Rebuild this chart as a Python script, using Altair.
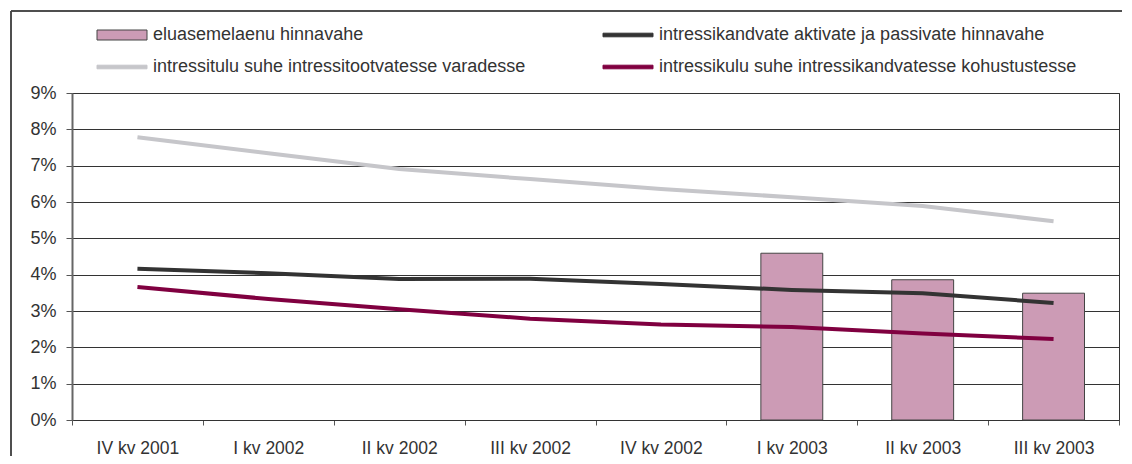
import altair as alt
import pandas as pd

cats = ["IV kv 2001", "I kv 2002", "II kv 2002", "III kv 2002",
        "IV kv 2002", "I kv 2003", "II kv 2003", "III kv 2003"]

s_bar = "eluasemelaenu hinnavahe"
s_spread = "intressikandvate aktivate ja passivate hinnavahe"
s_income = "intressitulu suhe intressitootvatesse varadesse"
s_cost = "intressikulu suhe intressikandvatesse kohustustesse"
series_order = [s_bar, s_spread, s_income, s_cost]
series_colors = ["#cc9bb5", "#333333", "#c6c6ca", "#800040"]
series_strokes = ["#444444", "#333333", "#c6c6ca", "#800040"]
series_symbols = ["M-5,-1H5V1H-5Z", "M-5,-0.36H5V0.36H-5Z",
                  "M-5,-0.36H5V0.36H-5Z", "M-5,-0.36H5V0.36H-5Z"]

bar_cats = ["I kv 2003", "II kv 2003", "III kv 2003"]
bar_vals = [4.59, 3.86, 3.49]
income = [7.78, 7.34, 6.91, 6.63, 6.36, 6.13, 5.89, 5.47]
spread = [4.16, 4.04, 3.88, 3.89, 3.74, 3.58, 3.49, 3.22]
cost = [3.66, 3.33, 3.05, 2.79, 2.63, 2.56, 2.38, 2.23]
y_ticks = [0, 1, 2, 3, 4, 5, 6, 7, 8, 9]

line_df = pd.concat([
    pd.DataFrame({"cat": cats, "series": s_income, "value": income}),
    pd.DataFrame({"cat": cats, "series": s_spread, "value": spread}),
    pd.DataFrame({"cat": cats, "series": s_cost, "value": cost}),
])
bar_df = pd.DataFrame({"cat": bar_cats, "series": s_bar, "value": bar_vals})
legend_df = pd.DataFrame({"series": series_order, "idx": range(len(series_order))})

FONT = "Liberation Sans"
TXT = "#333333"

x_enc = alt.X("cat:N", sort=cats, title=None,
              scale=alt.Scale(domain=cats, paddingInner=0, paddingOuter=0),
              axis=alt.Axis(tickBand="extent", labelAngle=0, labelFont=FONT,
                            labelFontSize=17.5, labelColor=TXT, labelPadding=14,
                            tickSize=5, tickColor="#555555", domainColor="#333333",
                            domainWidth=1, grid=False))
y_enc = alt.Y("value:Q", title=None,
              scale=alt.Scale(domain=[0, 9], nice=False),
              axis=alt.Axis(values=y_ticks, labelExpr="datum.value + '%'",
                            labelFont=FONT, labelFontSize=18, labelColor=TXT,
                            labelPadding=10, tickSize=6, tickColor="#555555",
                            domainColor="#666666", domainWidth=2,
                            grid=True, gridColor="#333333", gridWidth=1))
color_scale = alt.Scale(domain=series_order, range=series_colors)

bars = alt.Chart(bar_df).mark_bar(
    width=alt.RelativeBandSize(0.473), stroke="#444444", strokeWidth=1
).encode(x=x_enc, y=y_enc,
         color=alt.Color("series:N", scale=color_scale, legend=None))

lines = alt.Chart(line_df).mark_line(strokeWidth=4).encode(
    x=x_enc, y=y_enc,
    color=alt.Color("series:N", scale=color_scale, legend=None),
    detail="series:N",
)

# legend drawn as its own small layer: 2 columns x 2 rows above the plot
legend_base = alt.Chart(legend_df).transform_calculate(
    lx="50 + (datum.idx % 2) * 506",
    ly="-58 + floor(datum.idx / 2) * 32",
)
leg_x = alt.X("lx:Q", scale=None, axis=None)
leg_y = alt.Y("ly:Q", scale=None, axis=None)

leg_symbols = legend_base.mark_point(filled=True, size=100, opacity=1, strokeWidth=1).encode(
    x=leg_x, y=leg_y,
    color=alt.Color("series:N", scale=color_scale, legend=None),
    stroke=alt.Stroke("series:N",
                      scale=alt.Scale(domain=series_order, range=series_strokes),
                      legend=None),
    shape=alt.Shape("series:N",
                    scale=alt.Scale(domain=series_order, range=series_symbols),
                    legend=None),
)
leg_text = legend_base.mark_text(
    align="left", baseline="middle", dx=31, font=FONT, fontSize=18, color=TXT
).encode(x=leg_x, y=leg_y, text="series:N")

frame = alt.Chart(legend_df).mark_rect(fill=None, stroke="#444444", strokeWidth=1).encode(
    x=alt.value(-61), x2=alt.value(1200), y=alt.value(-82), y2=alt.value(600)
)

chart = alt.layer(frame, bars, lines, leg_symbols, leg_text).properties(
    width=1047, height=327,
    autosize=alt.AutoSizeParams(type="none"),
    padding={"left": 64, "top": 85, "right": 3, "bottom": 36},
    background="white",
).configure_view(stroke="#333333", strokeWidth=1)

chart.save("out.html", embed_options={"renderer": "svg", "actions": False})
